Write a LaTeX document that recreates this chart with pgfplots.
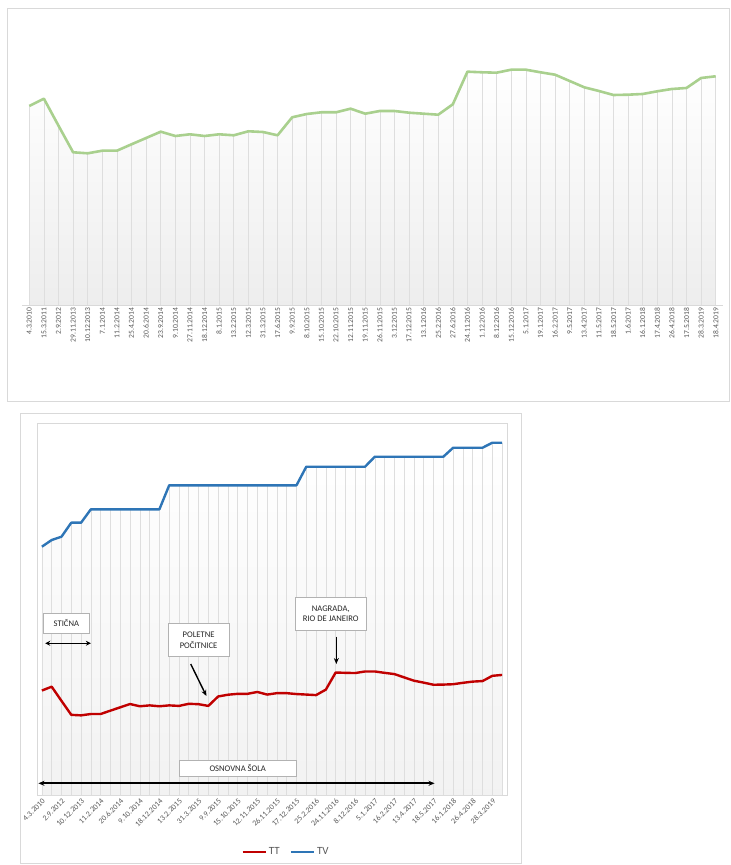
\documentclass[border=0pt]{standalone}
\usepackage{fontspec}
\setmainfont{Carlito}
\usepackage{pgfplots}
\usepackage{pgfplotstable}
\pgfplotsset{compat=1.18}
\usetikzlibrary{arrows.meta}

\definecolor{tgreen}{RGB}{169,208,142}
\definecolor{tred}{RGB}{192,0,0}
\definecolor{tblue}{RGB}{46,117,182}
\definecolor{frm}{RGB}{217,217,217}
\definecolor{lbl}{RGB}{89,89,89}
\definecolor{drop}{RGB}{222,222,222}

\pgfplotstableread{
x tt tv
1 199 473
2 206.3 485.7
3 179.3 492
4 152.7 518.7
5 151.7 518.7
6 154.3 544.2
7 154.3 544.2
8 160.7 544.2
9 167 544.2
10 173.3 544.2
11 169 544.2
12 170.7 544.2
13 169 544.2
14 170.7 589.9
15 169.7 589.9
16 173.7 589.9
17 173 589.9
18 169.7 589.9
19 187.7 589.9
20 191 589.9
21 192.7 589.9
22 192.7 589.9
23 196.3 589.9
24 191.3 589.9
25 194 589.9
26 194 589.9
27 192.3 589.9
28 191.3 625.3
29 190.3 625.3
30 200.7 625.3
31 233.3 625.3
32 232.7 625.3
33 232.3 625.3
34 235.3 625.3
35 235.3 644.4
36 232.7 644.4
37 230.3 644.4
38 224 644.4
39 217.7 644.4
40 214 644.4
41 210 644.4
42 210.3 644.4
43 211 661.5
44 213.7 661.5
45 216 661.5
46 217 661.5
47 227 671
48 228.7 671
}\mydata

\begin{document}
\begin{tikzpicture}[x=1pt,y=1pt]
\path[use as bounding box] (0,0) rectangle (731,865);
\draw[frm, line width=0.8pt] (7,857) rectangle (729,464);
\draw[frm, line width=0.8pt] (20,452) rectangle (521,2);

% ---------- top chart ----------
\begin{axis}[
  at={(22pt,560pt)}, anchor=south west,
  scale only axis, width=701pt, height=285pt,
  xmin=0.5, xmax=48.5, ymin=0, ymax=285,
  axis x line*=bottom, hide y axis,
  x axis line style={frm, line width=0.8pt},
  major tick length=0pt,
  xtick={1,...,48},
  xticklabels={4.3.2010,15.3.2011,2.9.2012,29.11.2013,10.12.2013,7.1.2014,11.2.2014,25.4.2014,20.6.2014,23.9.2014,9.10.2014,27.11.2014,18.12.2014,8.1.2015,13.2.2015,12.3.2015,31.3.2015,17.6.2015,9.9.2015,8.10.2015,15.10.2015,22.10.2015,12.11.2015,19.11.2015,26.11.2015,3.12.2015,17.12.2015,13.1.2016,25.2.2016,27.6.2016,24.11.2016,1.12.2016,8.12.2016,15.12.2016,5.1.2017,19.1.2017,16.2.2017,9.5.2017,13.4.2017,11.5.2017,18.5.2017,1.6.2017,16.1.2018,17.4.2018,26.4.2018,17.5.2018,28.3.2019,18.4.2019},
  xticklabel style={rotate=90, anchor=east, font=\fontsize{7.6}{8}\selectfont, text=lbl, inner sep=2.5pt},
]
\addplot[draw=none, top color=white, bottom color=black!7, forget plot] table[x=x,y=tt]{\mydata} \closedcycle;
\addplot[ycomb, draw=drop, line width=0.6pt, forget plot] table[x=x,y=tt]{\mydata};
\addplot[tgreen, line width=2.6pt, line join=round] table[x=x,y=tt]{\mydata};
\end{axis}

% ---------- bottom chart ----------
\begin{axis}[
  at={(37pt,70pt)}, anchor=south west,
  scale only axis, width=470pt, height=372pt,
  xmin=0.5, xmax=48.5, ymin=0, ymax=708.6,
  axis line style={frm, line width=0.8pt},
  clip=false,
  major tick length=0pt,
  ytick=\empty,
  xtick={1,3,...,47},
  xticklabels={4.3.2010,2.9.2012,10.12.2013,11.2.2014,20.6.2014,9.10.2014,18.12.2014,13.2.2015,31.3.2015,9.9.2015,15.10.2015,12.11.2015,26.11.2015,17.12.2015,25.2.2016,24.11.2016,8.12.2016,5.1.2017,16.2.2017,13.4.2017,18.5.2017,16.1.2018,26.4.2018,28.3.2019},
  xticklabel style={rotate=45, anchor=north east, font=\fontsize{7.8}{8}\selectfont, text=lbl, inner sep=2pt},
  legend style={at={(0.53,-0.153)}, anchor=center, draw=none, fill=none,
    legend columns=2, font=\fontsize{11}{12}\selectfont\color{lbl},
    /tikz/every even column/.append style={column sep=8pt}},
  legend image code/.code={\draw[#1] (0pt,0pt) -- (23pt,0pt);},
]
\addplot[draw=none, top color=white, bottom color=black!5, forget plot] table[x=x,y=tv]{\mydata} \closedcycle;
\addplot[ycomb, draw=drop, line width=0.6pt, forget plot] table[x=x,y=tv]{\mydata};
\addplot[tred, line width=2.4pt, line join=round] table[x=x,y=tt]{\mydata};
\addlegendentry{TT}
\addplot[tblue, line width=2.4pt, line join=round] table[x=x,y=tv]{\mydata};
\addlegendentry{TV}

\tikzset{ann/.style={draw=black!30, fill=white, text=black!85, align=center,
  font=\fontsize{8.6}{10.5}\selectfont, inner sep=0pt}}
\node[ann, minimum width=46pt, minimum height=20.6pt] at (axis cs:3.5,327.6) {STIČNA};
\draw[{Stealth[length=5pt,width=5pt]}-{Stealth[length=5pt,width=5pt]}, line width=1.4pt] (axis cs:1.34,289) -- (axis cs:6.0,289);
\node[ann, minimum width=61.6pt, minimum height=33pt] at (axis cs:17.0,295) {POLETNE\\POČITNICE};
\draw[-{Stealth[length=6pt,width=5pt]}, line width=1.4pt] (axis cs:16.2,249.5) -- (axis cs:17.8,188.6);
\node[ann, minimum width=71.4pt, minimum height=32.7pt] at (axis cs:30.5,345) {NAGRADA,\\RIO DE JANEIRO};
\draw[-{Stealth[length=6pt,width=5pt]}, line width=1.4pt] (axis cs:31.07,301.5) -- (axis cs:31.07,249.5);
\node[ann, minimum width=116.7pt, minimum height=16.7pt] at (axis cs:21.0,50.8) {OSNOVNA ŠOLA};
\draw[{Stealth[length=6pt,width=5pt]}-{Stealth[length=6pt,width=5pt]}, line width=1.8pt] (axis cs:0.65,22.3) -- (axis cs:41.1,22.3);
\end{axis}
\end{tikzpicture}
\end{document}
